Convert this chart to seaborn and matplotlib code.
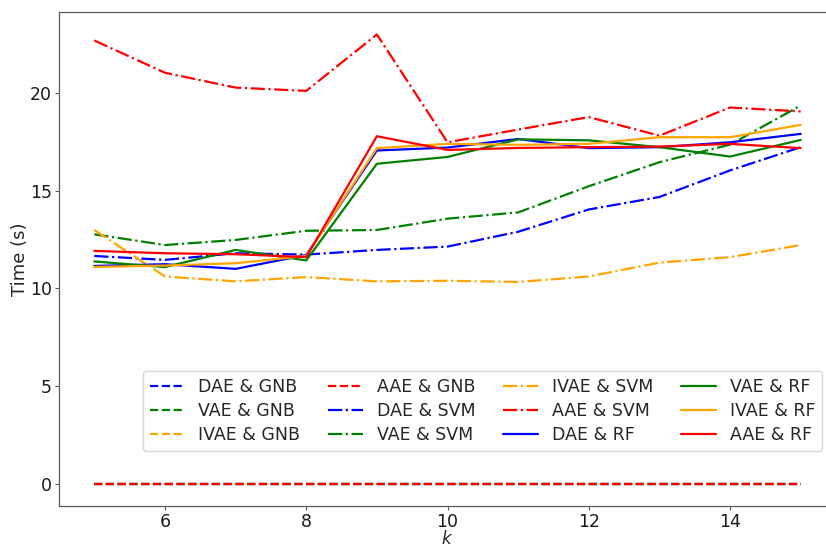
import numpy as np
import pandas as pd
import matplotlib
matplotlib.use("Agg")
import matplotlib.pyplot as plt
import seaborn as sns

# Number of latent dimensions
k = [5, 6, 7, 8, 9, 10, 11, 12, 13, 14, 15]

# Training + inference time (s) per autoencoder / classifier pair
dae_gnb = [0, 0, 0, 0, 0, 0, 0, 0, 0, 0, 0]
vae_gnb = [0, 0, 0, 0, 0, 0, 0, 0, 0, 0, 0]
ivae_gnb = [0, 0, 0, 0, 0, 0, 0, 0, 0, 0, 0]
aae_gnb = [0, 0, 0, 0, 0, 0, 0, 0, 0, 0, 0]
dae_svm = [11.65, 11.45, 11.79, 11.72, 11.96, 12.13, 12.89, 14.03, 14.67, 16.03, 17.22]
vae_svm = [12.76, 12.21, 12.47, 12.94, 12.98, 13.56, 13.88, 15.22, 16.45, 17.35, 19.35]
ivae_svm = [12.98, 10.60, 10.35, 10.57, 10.35, 10.38, 10.32, 10.60, 11.31, 11.59, 12.21]
aae_svm = [22.68, 21.03, 20.27, 20.10, 22.99, 17.47, 18.12, 18.76, 17.81, 19.25, 19.05]
dae_rf = [11.14, 11.23, 10.99, 11.70, 17.05, 17.20, 17.64, 17.17, 17.22, 17.47, 17.90]
vae_rf = [11.37, 11.08, 11.96, 11.42, 16.37, 16.72, 17.62, 17.57, 17.22, 16.74, 17.59]
ivae_rf = [11.09, 11.16, 11.28, 11.65, 17.17, 17.39, 17.34, 17.39, 17.73, 17.73, 18.36]
aae_rf = [11.91, 11.79, 11.74, 11.59, 17.78, 17.08, 17.18, 17.22, 17.25, 17.39, 17.17]

labels = ["DAE & GNB", "VAE & GNB", "IVAE & GNB", "AAE & GNB",
          "DAE & SVM", "VAE & SVM", "IVAE & SVM", "AAE & SVM",
          "DAE & RF", "VAE & RF", "IVAE & RF", "AAE & RF"]
series = [dae_gnb, vae_gnb, ivae_gnb, aae_gnb,
          dae_svm, vae_svm, ivae_svm, aae_svm,
          dae_rf, vae_rf, ivae_rf, aae_rf]
colors = ["blue", "green", "orange", "red"] * 3
styles = ["--"] * 4 + ["-."] * 4 + ["-"] * 4

sns.set_style("white")
plt.rcParams["font.family"] = ["DejaVu Sans"]

fig = plt.figure(figsize=(8.26, 5.48), dpi=100)
ax = fig.add_axes([59 / 826, 42 / 548, (836 - 59) / 826, (506 - 12) / 548])

for lab, vals, col, ls in zip(labels, series, colors, styles):
    df = pd.DataFrame({"k": k, "t": vals})
    sns.lineplot(data=df, x="k", y="t", ax=ax, color=col, linestyle=ls,
                 linewidth=1.6, label=lab, legend=False)

ax.set_xticks([6, 8, 10, 12, 14])
ax.set_yticks([0, 5, 10, 15, 20])
ax.tick_params(axis="both", labelsize=12.5, length=3, width=0.8, pad=2,
               color="0.35", labelcolor="0.1", direction="out",
               bottom=True, left=True)
for s in ax.spines.values():
    s.set_color("0.35")
    s.set_linewidth(0.9)

ax.set_xlabel("$k$", fontsize=12, labelpad=-0.5)
ax.set_ylabel("Time (s)", fontsize=13, labelpad=1)

handles, labs = ax.get_legend_handles_labels()
ax.legend(handles, labs, ncol=4, fontsize=12.5, loc="lower right",
          bbox_to_anchor=(822 / 826, 1 - 451 / 548),
          bbox_transform=fig.transFigure, frameon=True, borderaxespad=0,
          framealpha=0.8, edgecolor="0.8", fancybox=True,
          labelspacing=0.35, columnspacing=1.6, handlelength=2.0,
          handletextpad=0.8, borderpad=0.4)

fig.savefig("out.png", dpi=100)
